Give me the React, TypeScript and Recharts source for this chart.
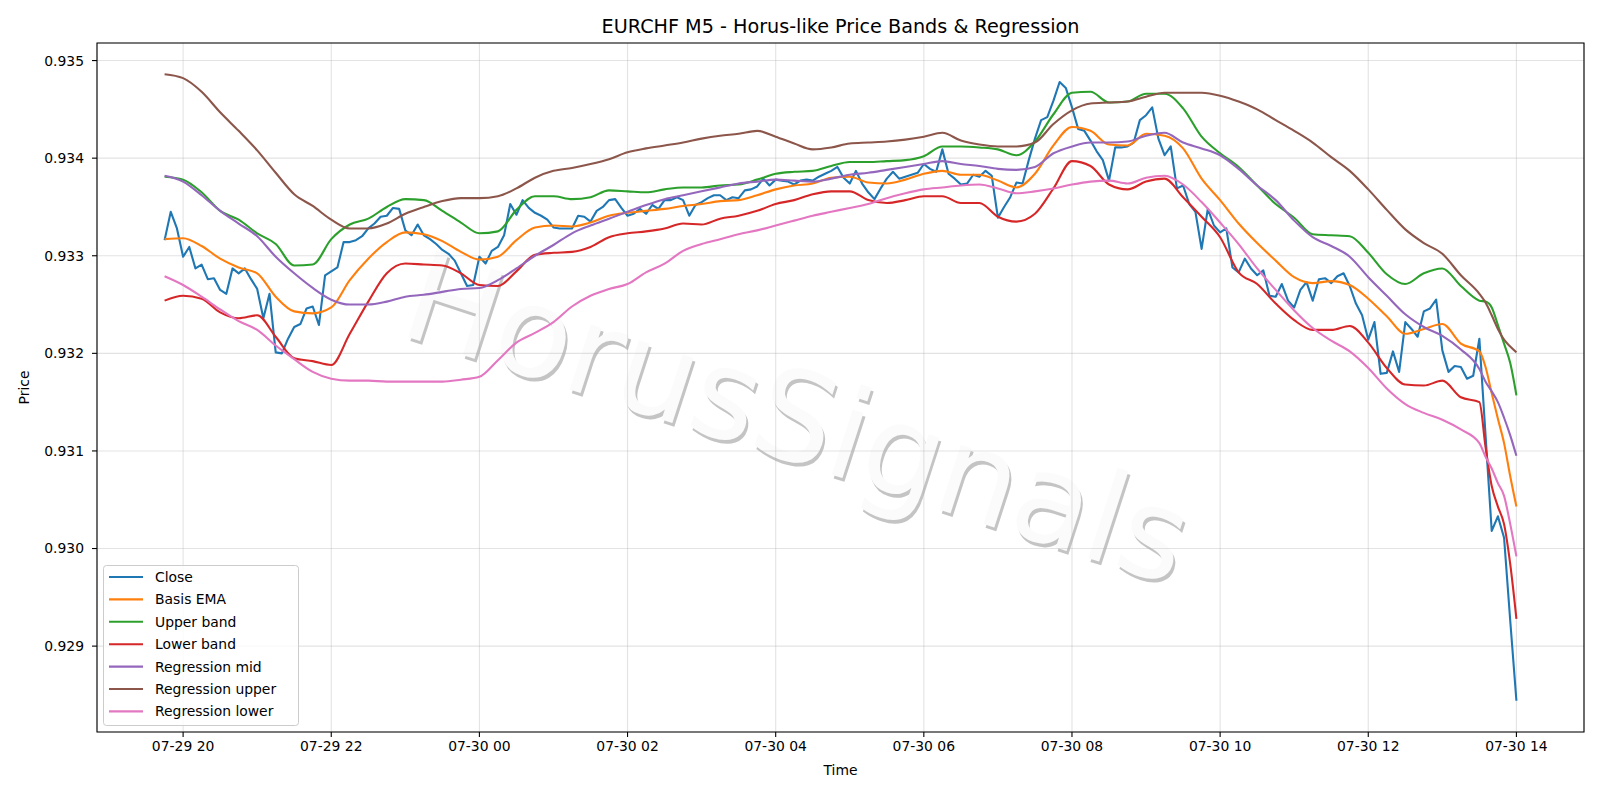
import React from 'react';
import { LineChart, Line, XAxis, YAxis, CartesianGrid, ReferenceArea } from 'recharts';

// Time base: minutes since 07-29 00:00; first candle 07-29 19:45, M5 bars
const START_MIN = 1185;
const STEP_MIN = 5;

const closeValues = [
  0.93316, 0.93345, 0.93328, 0.93299, 0.93309, 0.93287, 0.93291, 0.93276, 0.93277, 0.93265,
  0.93261, 0.93287, 0.93282, 0.93287, 0.93276, 0.93266, 0.93236, 0.93261, 0.93201, 0.93200,
  0.93215, 0.93227, 0.93230, 0.93246, 0.93248, 0.93229, 0.93280, 0.93284, 0.93288, 0.93314,
  0.93314, 0.93316, 0.93320, 0.93328, 0.93333, 0.93340, 0.93341, 0.93349, 0.93348, 0.93326,
  0.93321, 0.93332, 0.93321, 0.93317, 0.93312, 0.93306, 0.93302, 0.93295, 0.93282, 0.93269,
  0.93270, 0.93299, 0.93292, 0.93305, 0.93309, 0.93321, 0.93353, 0.93342, 0.93357, 0.93349,
  0.93344, 0.93341, 0.93337, 0.93329, 0.93328, 0.93328, 0.93328, 0.93341, 0.93340, 0.93335,
  0.93346, 0.93350, 0.93357, 0.93358, 0.93349, 0.93341, 0.93343, 0.93348, 0.93343, 0.93352,
  0.93348, 0.93357, 0.93357, 0.93360, 0.93357, 0.93341, 0.93352, 0.93355, 0.93359, 0.93362,
  0.93362, 0.93357, 0.93360, 0.93359, 0.93367, 0.93368, 0.93371, 0.93379, 0.93372, 0.93378,
  0.93377, 0.93376, 0.93373, 0.93377, 0.93378, 0.93377, 0.93381, 0.93384, 0.93387, 0.93391,
  0.93380, 0.93374, 0.93387, 0.93374, 0.93365, 0.93358, 0.93369, 0.93379, 0.93386, 0.93379,
  0.93381, 0.93383, 0.93385, 0.93394, 0.93389, 0.93386, 0.93409, 0.93384, 0.93379, 0.93373,
  0.93374, 0.93383, 0.93381, 0.93387, 0.93382, 0.93339, 0.93350, 0.93360, 0.93375, 0.93374,
  0.93398, 0.93420, 0.93439, 0.93442, 0.93459, 0.93478, 0.93472, 0.93452, 0.93430, 0.93428,
  0.93418, 0.93407, 0.93398, 0.93377, 0.93411, 0.93411, 0.93412, 0.93416, 0.93439, 0.93444,
  0.93452, 0.93420, 0.93403, 0.93412, 0.93369, 0.93372, 0.93353, 0.93345, 0.93307, 0.93348,
  0.93331, 0.93324, 0.93328, 0.93288, 0.93283, 0.93297, 0.93287, 0.93280, 0.93285, 0.93259,
  0.93258, 0.93271, 0.93254, 0.93247, 0.93265, 0.93273, 0.93254, 0.93276, 0.93277, 0.93272,
  0.93279, 0.93282, 0.93269, 0.93251, 0.93239, 0.93214, 0.93232, 0.93179, 0.93180, 0.93202,
  0.93181, 0.93232, 0.93225, 0.93217, 0.93243, 0.93246, 0.93255, 0.93203, 0.93181, 0.93187,
  0.93186, 0.93174, 0.93177, 0.93215, 0.93116, 0.93018, 0.93033, 0.93011, 0.92926, 0.92844,
];

// Bar indices at which the smooth band / regression curves were read
const bandIdx = [
  0, 3, 6, 9, 12, 15, 18, 21, 24, 27,
  30, 33, 36, 39, 42, 45, 48, 51, 54, 57,
  60, 63, 66, 69, 72, 75, 78, 81, 84, 87,
  90, 93, 96, 99, 102, 105, 108, 111, 114, 117,
  120, 123, 126, 129, 132, 135, 138, 141, 144, 147,
  150, 153, 156, 159, 162, 165, 168, 171, 174, 177,
  180, 183, 186, 189, 192, 195, 198, 201, 204, 207,
  210, 213, 214, 215, 216, 217, 218, 219,
];

const basisEma = [
  0.93317, 0.93318, 0.93310, 0.93297, 0.93288, 0.93282, 0.93258, 0.93243, 0.93241, 0.93247,
  0.93275, 0.93297, 0.93314, 0.93324, 0.93322, 0.93315, 0.93304, 0.93296, 0.93299, 0.93316,
  0.93329, 0.93331, 0.93330, 0.93334, 0.93341, 0.93344, 0.93346, 0.93348, 0.93351, 0.93353,
  0.93356, 0.93357, 0.93362, 0.93368, 0.93372, 0.93374, 0.93380, 0.93381, 0.93375, 0.93374,
  0.93378, 0.93384, 0.93387, 0.93383, 0.93383, 0.93377, 0.93370, 0.93384, 0.93413, 0.93432,
  0.93428, 0.93414, 0.93413, 0.93425, 0.93423, 0.93410, 0.93379, 0.93357, 0.93333, 0.93313,
  0.93295, 0.93278, 0.93272, 0.93274, 0.93270, 0.93256, 0.93238, 0.93220, 0.93225, 0.93230,
  0.93210, 0.93202, 0.93186, 0.93159, 0.93133, 0.93108, 0.93074, 0.93043,
];

const upperBand = [
  0.93381, 0.93378, 0.93365, 0.93346, 0.93337, 0.93323, 0.93312, 0.93290, 0.93291, 0.93317,
  0.93332, 0.93338, 0.93350, 0.93358, 0.93357, 0.93346, 0.93334, 0.93323, 0.93325, 0.93347,
  0.93361, 0.93361, 0.93358, 0.93360, 0.93367, 0.93366, 0.93365, 0.93368, 0.93370, 0.93370,
  0.93372, 0.93373, 0.93378, 0.93384, 0.93386, 0.93387, 0.93392, 0.93396, 0.93396, 0.93397,
  0.93398, 0.93402, 0.93412, 0.93412, 0.93411, 0.93409, 0.93403, 0.93417, 0.93445, 0.93467,
  0.93468, 0.93457, 0.93458, 0.93466, 0.93466, 0.93451, 0.93422, 0.93405, 0.93391, 0.93372,
  0.93353, 0.93339, 0.93322, 0.93321, 0.93320, 0.93303, 0.93281, 0.93271, 0.93282, 0.93287,
  0.93269, 0.93254, 0.93253, 0.93247, 0.93229, 0.93210, 0.93190, 0.93157,
];

const lowerBand = [
  0.93254, 0.93259, 0.93256, 0.93242, 0.93236, 0.93239, 0.93217, 0.93195, 0.93192, 0.93188,
  0.93220, 0.93253, 0.93282, 0.93292, 0.93291, 0.93290, 0.93282, 0.93270, 0.93269, 0.93284,
  0.93301, 0.93303, 0.93304, 0.93309, 0.93319, 0.93323, 0.93325, 0.93328, 0.93333, 0.93332,
  0.93338, 0.93341, 0.93346, 0.93353, 0.93357, 0.93363, 0.93366, 0.93366, 0.93357, 0.93354,
  0.93357, 0.93361, 0.93361, 0.93354, 0.93354, 0.93340, 0.93335, 0.93343, 0.93369, 0.93397,
  0.93392, 0.93373, 0.93368, 0.93376, 0.93379, 0.93360, 0.93340, 0.93319, 0.93283, 0.93271,
  0.93251, 0.93234, 0.93224, 0.93224, 0.93228, 0.93211, 0.93185, 0.93168, 0.93167, 0.93172,
  0.93155, 0.93150, 0.93104, 0.93064, 0.93043, 0.93025, 0.92984, 0.92928,
];

const regressionMid = [
  0.93382, 0.93376, 0.93362, 0.93346, 0.93333, 0.93320, 0.93299, 0.93282, 0.93267, 0.93255,
  0.93250, 0.93250, 0.93253, 0.93258, 0.93260, 0.93263, 0.93266, 0.93267, 0.93275, 0.93287,
  0.93300, 0.93311, 0.93323, 0.93331, 0.93338, 0.93345, 0.93352, 0.93358, 0.93362, 0.93366,
  0.93370, 0.93374, 0.93376, 0.93378, 0.93377, 0.93376, 0.93379, 0.93383, 0.93385, 0.93388,
  0.93391, 0.93394, 0.93397, 0.93394, 0.93392, 0.93389, 0.93388, 0.93391, 0.93405, 0.93412,
  0.93416, 0.93416, 0.93417, 0.93423, 0.93426, 0.93416, 0.93410, 0.93403, 0.93389, 0.93372,
  0.93357, 0.93336, 0.93319, 0.93310, 0.93299, 0.93278, 0.93259, 0.93240, 0.93227, 0.93218,
  0.93204, 0.93184, 0.93171, 0.93161, 0.93150, 0.93134, 0.93116, 0.93095,
];

const regressionUpper = [
  0.93486, 0.93482, 0.93468, 0.93447, 0.93428, 0.93408, 0.93385, 0.93363, 0.93351, 0.93337,
  0.93328, 0.93328, 0.93333, 0.93343, 0.93350, 0.93356, 0.93359, 0.93359, 0.93361, 0.93369,
  0.93380, 0.93387, 0.93390, 0.93394, 0.93399, 0.93406, 0.93410, 0.93413, 0.93416, 0.93420,
  0.93423, 0.93425, 0.93428, 0.93422, 0.93415, 0.93409, 0.93411, 0.93415, 0.93416, 0.93417,
  0.93419, 0.93422, 0.93426, 0.93418, 0.93414, 0.93412, 0.93412, 0.93416, 0.93435, 0.93449,
  0.93456, 0.93457, 0.93458, 0.93463, 0.93467, 0.93467, 0.93467, 0.93464, 0.93458, 0.93450,
  0.93439, 0.93428, 0.93416, 0.93401, 0.93387, 0.93368, 0.93347, 0.93327, 0.93313, 0.93302,
  0.93280, 0.93261, 0.93252, 0.93239, 0.93225, 0.93214, 0.93207, 0.93201,
];

const regressionLower = [
  0.93279, 0.93270, 0.93258, 0.93245, 0.93233, 0.93224, 0.93208, 0.93194, 0.93181, 0.93174,
  0.93172, 0.93172, 0.93171, 0.93171, 0.93171, 0.93171, 0.93173, 0.93176, 0.93193, 0.93211,
  0.93221, 0.93232, 0.93248, 0.93259, 0.93266, 0.93271, 0.93283, 0.93292, 0.93305, 0.93312,
  0.93317, 0.93322, 0.93326, 0.93331, 0.93336, 0.93341, 0.93345, 0.93349, 0.93353, 0.93359,
  0.93364, 0.93368, 0.93370, 0.93372, 0.93373, 0.93369, 0.93364, 0.93366, 0.93369, 0.93373,
  0.93376, 0.93377, 0.93374, 0.93380, 0.93382, 0.93373, 0.93355, 0.93334, 0.93312, 0.93287,
  0.93265, 0.93244, 0.93226, 0.93213, 0.93202, 0.93185, 0.93164, 0.93148, 0.93139, 0.93132,
  0.93122, 0.93108, 0.93094, 0.93082, 0.93067, 0.93054, 0.93025, 0.92992,
];

const xTickMinutes = [1200, 1320, 1440, 1560, 1680, 1800, 1920, 2040, 2160, 2280];
const xTickLabels = ['07-29 20', '07-29 22', '07-30 00', '07-30 02', '07-30 04', '07-30 06', '07-30 08', '07-30 10', '07-30 12', '07-30 14'];
const yTicks = [0.929, 0.930, 0.931, 0.932, 0.933, 0.934, 0.935];

const X_DOMAIN: [number, number] = [1130.25, 2334.75];
const Y_DOMAIN: [number, number] = [0.92812, 0.93518];

const FONT = 'DejaVu Sans, sans-serif';

const closeData = closeValues.map((v, i) => ({ t: START_MIN + i * STEP_MIN, v }));
const toBand = (vals: number[]) => vals.map((v, j) => ({ t: START_MIN + bandIdx[j] * STEP_MIN, v }));

const series = [
  { name: 'Close', color: '#1f77b4', data: closeData, type: 'linear' },
  { name: 'Basis EMA', color: '#ff7f0e', data: toBand(basisEma), type: 'monotone' },
  { name: 'Upper band', color: '#2ca02c', data: toBand(upperBand), type: 'monotone' },
  { name: 'Lower band', color: '#d62728', data: toBand(lowerBand), type: 'monotone' },
  { name: 'Regression mid', color: '#9467bd', data: toBand(regressionMid), type: 'monotone' },
  { name: 'Regression upper', color: '#8c564b', data: toBand(regressionUpper), type: 'monotone' },
  { name: 'Regression lower', color: '#e377c2', data: toBand(regressionLower), type: 'monotone' },
];

export default function App() {
  return (
    <div style={{ position: 'absolute', left: 0, top: 0, width: 1600, height: 800, background: '#fff', fontFamily: FONT }}>
      {/* watermark behind the plot */}
      <svg width={1600} height={800} style={{ position: 'absolute', left: 0, top: 0 }}>
        <g transform="translate(798,418) rotate(18)" fontFamily={FONT} fontSize={125}>
          <text x={3} y={3} textAnchor="middle" dominantBaseline="central" fill="#c4c4c4">HorusSignals</text>
          <text x={0} y={0} textAnchor="middle" dominantBaseline="central" fill="#fbfbfb">HorusSignals</text>
        </g>
      </svg>
      <div style={{ position: 'absolute', left: 0, top: 0 }}>
        <LineChart width={1600} height={800} margin={{ top: 43, right: 16, bottom: 28, left: 0 }}>
          <CartesianGrid stroke="#b0b0b0" strokeOpacity={0.35} strokeWidth={1.1} />
          <XAxis
            dataKey="t"
            type="number"
            domain={X_DOMAIN}
            allowDataOverflow
            ticks={xTickMinutes}
            interval={0}
            tickFormatter={(v: number) => xTickLabels[xTickMinutes.indexOf(v)] ?? ''}
            height={40}
            tickSize={5}
            tickMargin={4}
            axisLine={false}
            tickLine={{ stroke: '#000', strokeWidth: 1.1 }}
            tick={{ fill: '#000', fontSize: 13.9, fontFamily: FONT }}
          />
          <YAxis
            type="number"
            domain={Y_DOMAIN}
            allowDataOverflow
            ticks={yTicks}
            interval={0}
            tickFormatter={(v: number) => v.toFixed(3)}
            width={97}
            tickSize={5}
            tickMargin={8}
            axisLine={false}
            tickLine={{ stroke: '#000', strokeWidth: 1.1 }}
            tick={{ fill: '#000', fontSize: 13.9, fontFamily: FONT }}
          />
          {series.map((s) => (
            <Line
              key={s.name}
              data={s.data}
              dataKey="v"
              name={s.name}
              type={s.type as any}
              stroke={s.color}
              strokeWidth={2.1}
              strokeLinejoin="round"
              dot={false}
              activeDot={false}
              isAnimationActive={false}
            />
          ))}
          <ReferenceArea
            x1={X_DOMAIN[0]}
            x2={X_DOMAIN[1]}
            y1={Y_DOMAIN[0]}
            y2={Y_DOMAIN[1]}
            fill="none"
            stroke="#000"
            strokeWidth={1.1}
            ifOverflow="visible"
          />
        </LineChart>
      </div>
      {/* title, axis labels, legend */}
      <svg width={1600} height={800} style={{ position: 'absolute', left: 0, top: 0, pointerEvents: 'none' }} fontFamily={FONT}>
        <text x={840.5} y={32.5} textAnchor="middle" fontSize={19.2} fill="#000">
          EURCHF M5 - Horus-like Price Bands &amp; Regression
        </text>
        <text x={840.5} y={775} textAnchor="middle" fontSize={13.9} fill="#000">Time</text>
        <text transform="translate(29,387.5) rotate(-90)" textAnchor="middle" fontSize={13.9} fill="#000">Price</text>
        <rect x={103.5} y={565.5} width={195} height={160} rx={3} ry={3} fill="#ffffff" fillOpacity={0.8} stroke="#cccccc" strokeWidth={1} />
        {series.map((s, k) => (
          <g key={s.name}>
            <line x1={109} x2={143} y1={577 + k * 22.4} y2={577 + k * 22.4} stroke={s.color} strokeWidth={2.1} />
            <text x={155} y={577 + k * 22.4} dominantBaseline="central" fontSize={13.9} fill="#000">{s.name}</text>
          </g>
        ))}
      </svg>
    </div>
  );
}
